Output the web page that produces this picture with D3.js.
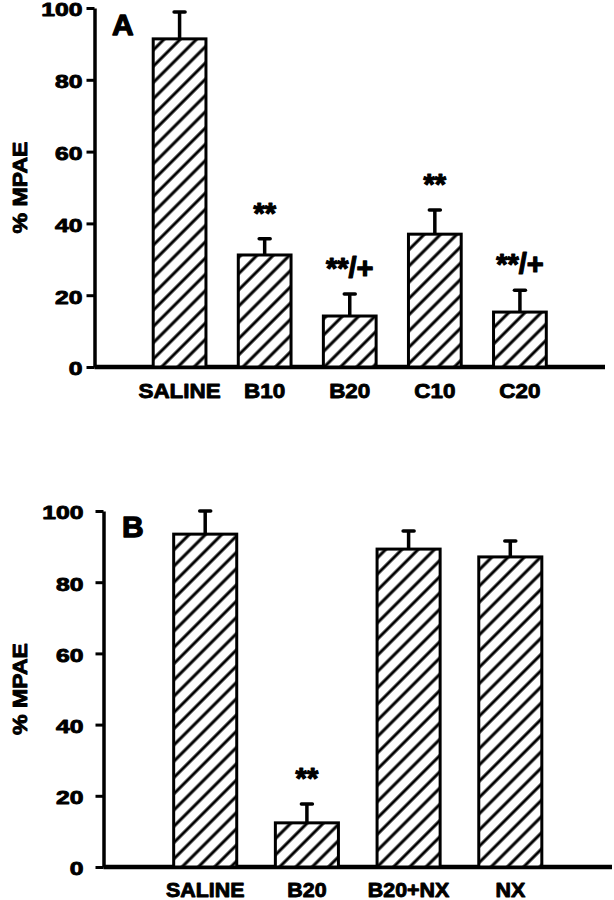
<!DOCTYPE html>
<html><head><meta charset="utf-8">
<script src="https://cdn.jsdelivr.net/npm/d3@7"></script>
<style>
body{margin:0;background:#fff}
text{font-family:"Liberation Sans",Arial,sans-serif;font-weight:bold;fill:#000;stroke:#000;stroke-width:0.9px;stroke-linejoin:round}
</style>
</head><body>
<svg id="c" width="614" height="900"></svg>
<script>
// ---- data ----
const catsA = ["SALINE", "B10", "B20", "C10", "C20"];
const meansA = [91.4, 31.2, 14.2, 37.0, 15.3];
const errsA = [7.5, 4.5, 6.1, 6.7, 6.1];
const sigA = ["", "**", "**/+", "**", "**/+"];

const catsB = ["SALINE", "B20", "B20+NX", "NX"];
const meansB = [93.5, 12.4, 89.3, 87.1];
const errsB = [6.5, 5.3, 5.1, 4.5];
const sigB = ["", "**", "", ""];

const yTicks = [0, 20, 40, 60, 80, 100];
const yLabel = "% MPAE";

const svg = d3.select("#c");
const defs = svg.append("defs");
const pw = 11.5;
const pat = defs.append("pattern").attr("id", "hatch")
  .attr("patternUnits", "userSpaceOnUse")
  .attr("width", pw).attr("height", pw)
  .attr("patternTransform", "rotate(45)");
pat.append("rect").attr("width", pw).attr("height", pw).attr("fill", "#fff");
pat.append("line").attr("x1", pw / 2).attr("y1", 0).attr("x2", pw / 2).attr("y2", pw)
  .attr("stroke", "#000").attr("stroke-width", 3);

function panel(cfg) {
  const {cats, means, errs, sig, x0, x1, yTop, yBot, letter, catFont, catY} = cfg;
  const g = svg.append("g");
  const y = d3.scaleLinear().domain([0, 100]).range([yBot, yTop]);
  const x = d3.scalePoint().domain(cats).range([x0, x1]).padding(1);
  const bw = x.step() * 0.62;

  // y axis
  const ya = g.append("g").attr("transform", `translate(${x0},0)`)
    .call(d3.axisLeft(y).tickValues(yTicks).tickSize(8).tickSizeOuter(0).tickFormat(d3.format("d")));
  ya.select(".domain").attr("stroke-width", 3.5);
  ya.selectAll(".tick line").attr("stroke-width", 3);
  ya.selectAll(".tick text")
    .attr("font-size", 19).attr("font-family", "Liberation Sans, Arial, sans-serif")
    .attr("font-weight", "bold")
    .attr("text-anchor", "end")
    .attr("x", -cfg.tickGap / 1.3)
    .attr("dy", "0.42em")
    .attr("transform", "scale(1.3,1)");

  // x axis line
  g.append("line").attr("x1", x0).attr("x2", x1).attr("y1", y(0)).attr("y2", y(0))
    .attr("stroke", "#000").attr("stroke-width", 4.5);

  const data = cats.map((c, i) => ({c, m: means[i], e: errs[i], s: sig[i]}));

  // error bars
  g.selectAll(".err").data(data).join("line")
    .attr("x1", d => x(d.c)).attr("x2", d => x(d.c))
    .attr("y1", d => y(d.m)).attr("y2", d => y(d.m + d.e))
    .attr("stroke", "#000").attr("stroke-width", 3.5);
  g.selectAll(".cap").data(data).join("line")
    .attr("x1", d => x(d.c) - 5.5).attr("x2", d => x(d.c) + 5.5)
    .attr("y1", d => y(d.m + d.e)).attr("y2", d => y(d.m + d.e))
    .attr("stroke", "#000").attr("stroke-width", 3.5).attr("stroke-linecap", "round");

  // bars
  g.selectAll(".bar").data(data).join("rect")
    .attr("x", d => x(d.c) - bw / 2).attr("width", bw)
    .attr("y", d => y(d.m)).attr("height", d => y(0) - y(d.m))
    .attr("fill", "url(#hatch)").attr("stroke", "#000").attr("stroke-width", 3);

  // significance marks
  g.selectAll(".sig").data(data.filter(d => d.s)).join("text")
    .attr("transform", d => `translate(${x(d.c)},${y(d.m + d.e) - 16})`)
    .attr("text-anchor", "middle").attr("font-size", 29)
    .style("stroke-width", "1.2px")
    .text(d => d.s);

  // category labels
  g.selectAll(".cat").data(data).join("text")
    .attr("transform", d => `translate(${x(d.c)},${y(0) + catY}) scale(1.07,1)`)
    .attr("text-anchor", "middle").attr("font-size", catFont)
    .text(d => d.c);

  // y label
  g.append("text")
    .attr("transform", `translate(${cfg.labX},${(yTop + yBot) / 2}) rotate(-90) scale(1.1,1)`)
    .attr("text-anchor", "middle").attr("font-size", 21)
    .text(yLabel);

  // panel letter
  g.append("text").attr("x", cfg.letX).attr("y", cfg.letY)
    .attr("font-size", 30).style("stroke-width", "1.3px").text(letter);
}

panel({cats: catsA, means: meansA, errs: errsA, sig: sigA,
  x0: 94.5, x1: 605, yTop: 8, yBot: 367, letter: "A", letX: 112, letY: 35,
  catFont: 21, catY: 31, labX: 27, tickGap: 12});
panel({cats: catsB, means: meansB, errs: errsB, sig: sigB,
  x0: 103.5, x1: 612, yTop: 511, yBot: 867, letter: "B", letX: 122, letY: 537,
  catFont: 20, catY: 30, labX: 27, tickGap: 20});
</script>
</body></html>
